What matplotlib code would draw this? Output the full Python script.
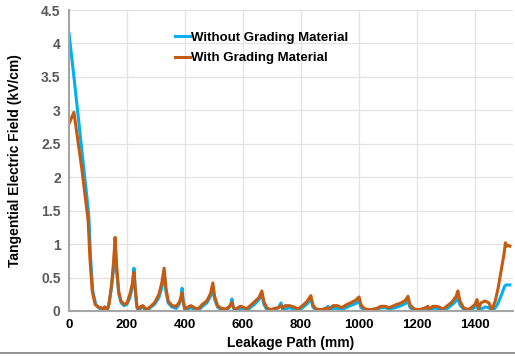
import matplotlib
matplotlib.use('Agg')
import matplotlib.pyplot as plt
from matplotlib.lines import Line2D

# Without Grading Material
x_wo = [0, 17, 52, 68, 75, 82, 92, 105, 115, 122, 128, 135, 145, 153, 159, 164, 172, 180, 190, 200,
        210, 218, 224, 229, 234, 240, 248, 255, 262, 270, 280, 295, 310, 320, 328, 334, 342, 355, 370, 380,
        386, 390, 394, 400, 410, 420, 432, 445, 460, 475, 488, 496, 502, 512, 525, 540, 552, 558, 562, 567,
        575, 590, 600, 612, 625, 640, 655, 665, 672, 682, 695, 710, 722, 731, 736, 745, 760, 775, 790, 805,
        820, 834, 841, 852, 870, 885, 893, 898, 910, 925, 940, 955, 970, 988, 1000, 1007, 1020, 1040, 1062, 1075,
        1090, 1105, 1125, 1145, 1160, 1169, 1176, 1190, 1205, 1225, 1238, 1242, 1255, 1270, 1290, 1305, 1320, 1335, 1341, 1348,
        1360, 1376, 1390, 1400, 1407, 1412, 1420, 1435, 1448, 1458, 1470, 1480, 1492, 1502, 1507, 1520]
y_wo = [4.15, 3.5, 2.1, 1.45, 0.75, 0.3, 0.1, 0.04, 0.02, 0.06, 0.0, 0.05, 0.3, 0.6, 0.98, 0.6, 0.25, 0.12, 0.08, 0.1,
        0.2, 0.35, 0.64, 0.3, 0.05, 0.0, 0.05, 0.06, 0.02, 0.0, 0.05, 0.1, 0.2, 0.35, 0.6, 0.3, 0.12, 0.06, 0.04, 0.1,
        0.2, 0.34, 0.15, 0.0, 0.03, 0.05, 0.03, 0.0, 0.07, 0.12, 0.22, 0.35, 0.18, 0.06, 0.02, 0.01, 0.05, 0.1, 0.18, 0.04,
        0.0, 0.04, 0.04, 0.0, 0.05, 0.1, 0.17, 0.25, 0.1, 0.02, 0.0, 0.02, 0.05, 0.12, 0.03, 0.03, 0.05, 0.03, 0.0, 0.05,
        0.1, 0.18, 0.06, 0.01, 0.0, 0.03, 0.07, 0.02, 0.04, 0.04, 0.02, 0.05, 0.08, 0.11, 0.15, 0.05, 0.01, 0.0, 0.02, 0.05,
        0.05, 0.03, 0.05, 0.08, 0.11, 0.15, 0.05, 0.01, 0.0, 0.02, 0.05, 0.0, 0.04, 0.04, 0.0, 0.04, 0.09, 0.15, 0.22, 0.09,
        0.03, 0.0, 0.03, 0.06, 0.1, 0.0, 0.03, 0.06, 0.05, 0.0, 0.05, 0.12, 0.25, 0.37, 0.39, 0.39]

# With Grading Material
x_w = [0, 17, 45, 66, 72, 80, 90, 100, 110, 118, 124, 130, 138, 147, 154, 159, 164, 171, 179, 190,
       200, 210, 218, 224, 229, 234, 240, 248, 255, 263, 270, 282, 296, 310, 320, 328, 334, 342, 355, 370,
       380, 386, 390, 394, 400, 410, 420, 432, 445, 460, 475, 488, 496, 502, 512, 525, 540, 552, 558, 562,
       567, 575, 590, 600, 612, 625, 640, 655, 665, 672, 682, 695, 710, 722, 731, 736, 745, 760, 775, 790,
       805, 820, 834, 841, 852, 870, 885, 893, 898, 910, 925, 940, 955, 970, 988, 1000, 1007, 1020, 1040, 1062,
       1075, 1090, 1105, 1125, 1145, 1160, 1169, 1176, 1190, 1205, 1225, 1238, 1242, 1255, 1270, 1290, 1305, 1320, 1335, 1341,
       1348, 1360, 1376, 1390, 1400, 1407, 1412, 1420, 1435, 1448, 1458, 1470, 1480, 1490, 1500, 1505, 1510, 1514, 1520]
y_w = [2.8, 2.97, 2.1, 1.35, 0.8, 0.3, 0.1, 0.06, 0.05, 0.02, 0.06, 0.0, 0.1, 0.4, 0.75, 1.1, 0.7, 0.3, 0.15, 0.1,
       0.12, 0.25, 0.4, 0.58, 0.3, 0.08, 0.02, 0.07, 0.08, 0.04, 0.03, 0.07, 0.13, 0.25, 0.42, 0.64, 0.35, 0.15, 0.08, 0.07,
       0.13, 0.2, 0.27, 0.12, 0.03, 0.06, 0.08, 0.05, 0.03, 0.1, 0.15, 0.26, 0.42, 0.22, 0.08, 0.04, 0.03, 0.06, 0.1, 0.13,
       0.05, 0.03, 0.07, 0.06, 0.03, 0.08, 0.14, 0.2, 0.3, 0.14, 0.05, 0.02, 0.04, 0.05, 0.08, 0.04, 0.08, 0.08, 0.06, 0.03,
       0.08, 0.14, 0.23, 0.09, 0.03, 0.02, 0.04, 0.04, 0.03, 0.08, 0.08, 0.05, 0.09, 0.12, 0.16, 0.21, 0.09, 0.03, 0.02, 0.04,
       0.07, 0.07, 0.05, 0.09, 0.12, 0.16, 0.22, 0.09, 0.03, 0.02, 0.04, 0.07, 0.03, 0.07, 0.07, 0.03, 0.08, 0.13, 0.22, 0.3,
       0.15, 0.05, 0.02, 0.06, 0.1, 0.17, 0.03, 0.12, 0.15, 0.12, 0.02, 0.15, 0.35, 0.6, 0.85, 1.02, 0.97, 0.98, 0.97]

x_ticks = [0, 200, 400, 600, 800, 1000, 1200, 1400]
y_ticks = [0, 0.5, 1, 1.5, 2, 2.5, 3, 3.5, 4, 4.5]
y_labels = ['0', '0.5', '1', '1.5', '2', '2.5', '3', '3.5', '4', '4.5']

plt.rc('font', family='Liberation Sans', weight='bold')

fig = plt.figure(figsize=(5.15, 3.56), dpi=100)
ax = fig.add_axes([69/515, 45/356, 444/515, 301/356])

ax.plot(x_wo, y_wo, color='#00B0F0', linewidth=2.2, label='Without Grading Material')
ax.plot(x_w, y_w, color='#C55A11', linewidth=2.2, label='With Grading Material')

ax.set_xlim(0, 1531)
ax.set_ylim(0, 4.5)
ax.set_xticks(x_ticks)
ax.set_yticks(y_ticks)
ax.set_yticklabels(y_labels)
ax.tick_params(length=0, labelsize=10, labelcolor='#595959', pad=6)
ax.tick_params(axis='x', labelcolor='black', labelsize=9.5)
ax.grid(color='#E3E3E3', linewidth=0.9)
ax.set_axisbelow(True)
for s in ['top', 'right']:
    ax.spines[s].set_visible(False)
ax.spines['left'].set_color('#A6A6A6')
ax.spines['left'].set_linewidth(1.5)
ax.spines['bottom'].set_color('#A6A6A6')
ax.spines['bottom'].set_linewidth(1.5)

ax.set_xlabel('Leakage Path (mm)', fontsize=10, fontweight='bold', labelpad=3)
ax.set_ylabel('Tangential Electric Field (kV/cm)', fontsize=10, fontweight='bold', labelpad=14)

ax.legend(loc='upper left', bbox_to_anchor=(0.225, 0.95), frameon=False, fontsize=9.5,
          handlelength=1.1, handletextpad=0.1, labelspacing=0.62, borderpad=0)

fig.add_artist(Line2D([0, 1], [3/356, 3/356], color='#808080', linewidth=1.2))

fig.savefig('out.png', dpi=100)
